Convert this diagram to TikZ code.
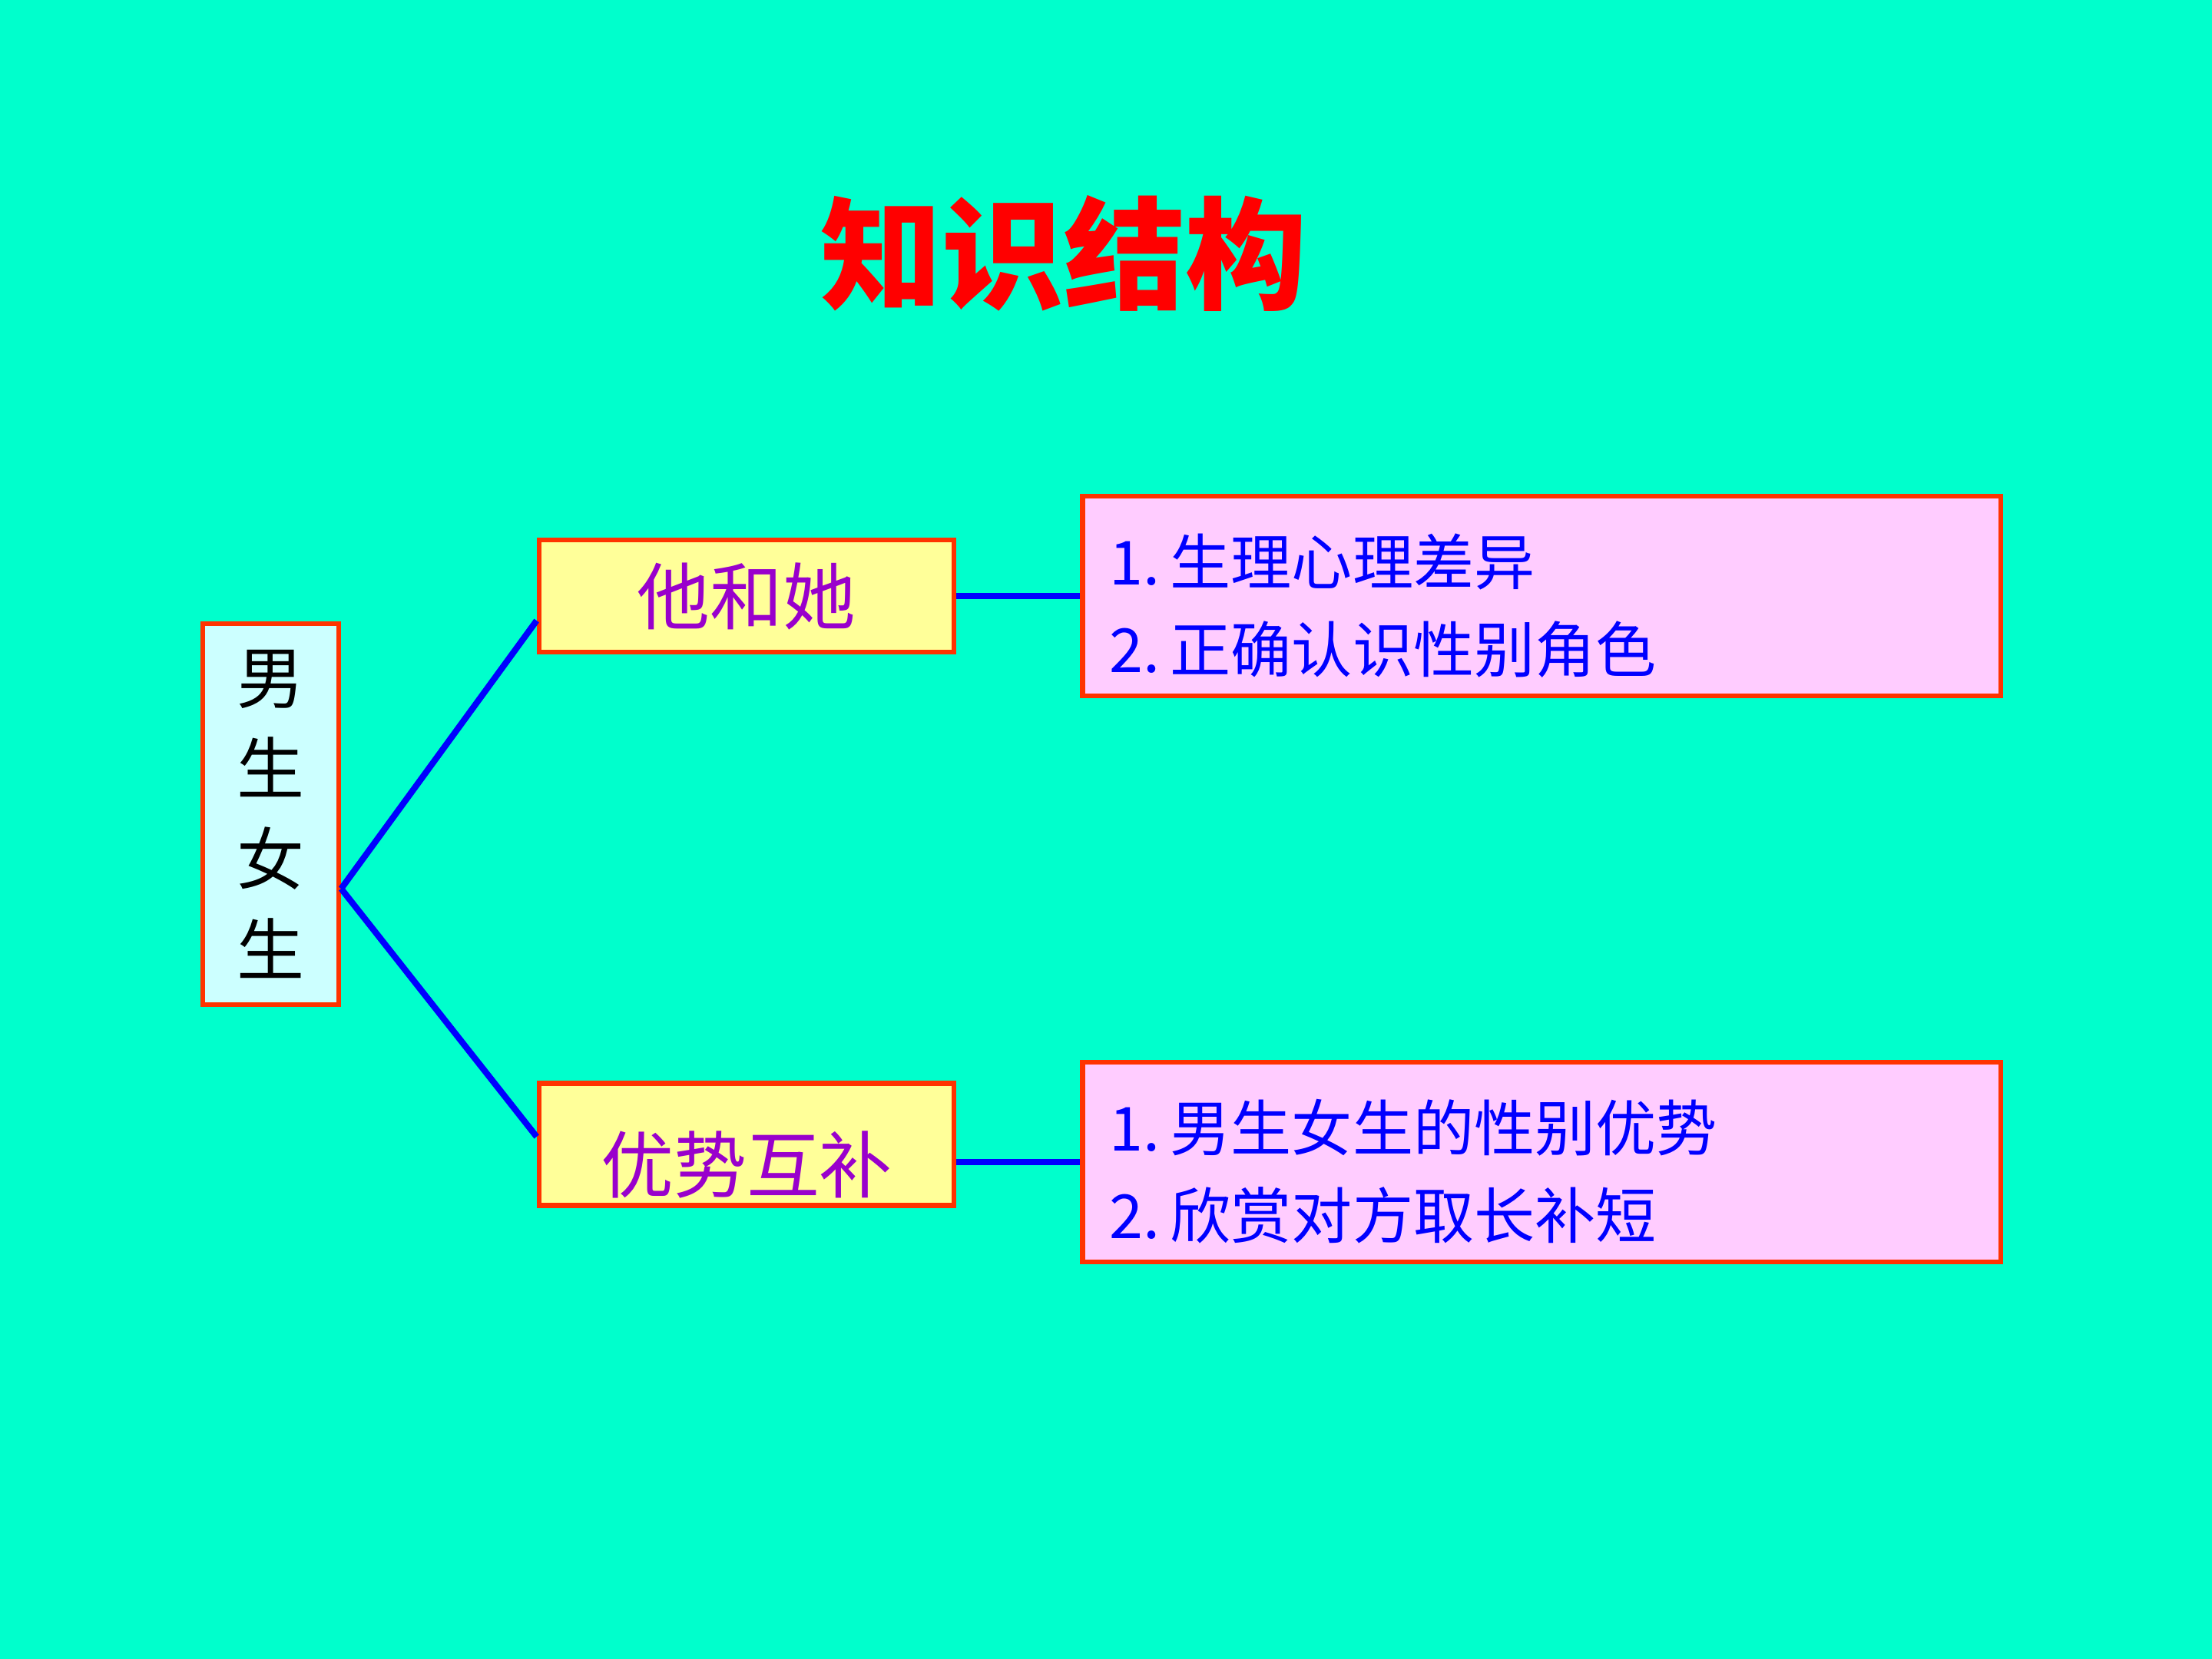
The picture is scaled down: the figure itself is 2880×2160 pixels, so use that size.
\documentclass[tikz,border=0pt]{standalone}
\usepackage{fontspec}
\usepackage{tikz}
\usetikzlibrary{positioning}
\newfontfamily\cjk{Noto Sans CJK SC}
\definecolor{slidebg}{HTML}{00FFCC}
\definecolor{boxline}{HTML}{FF3300}
\definecolor{paleblue}{HTML}{CCFFFF}
\definecolor{paleyellow}{HTML}{FFFF99}
\definecolor{palepink}{HTML}{FFCCFF}
\definecolor{violet}{HTML}{9900CC}
\begin{document}
\begin{tikzpicture}[x=0.01cm, y=-0.01cm,
  framed/.style={draw=boxline, line width=1.8pt, rectangle, inner sep=0pt},
  branch/.style={draw=blue, line width=2.3pt}]
\fill[slidebg] (0,0) rectangle (2880,2160);
\useasboundingbox (0,0) rectangle (2880,2160);

\node (title) at (1385,330) [text=red, font=\cjk\bfseries\fontsize{45pt}{50pt}\selectfont]{知识结构};

\node (boygirl) at (352.5,1060) [framed, fill=paleblue, minimum width=1.77cm, minimum height=4.96cm, align=center, font=\cjk\fontsize{25pt}{33.5pt}\selectfont]{男\\生\\女\\生};

\node (himher) at (972,776) [framed, fill=paleyellow, minimum width=5.4cm, minimum height=1.46cm, text=violet, font=\cjk\fontsize{27pt}{32pt}\selectfont]{\raisebox{-0.05cm}{他和她}};
\node (strengths) at (972,1490) [framed, fill=paleyellow, minimum width=5.4cm, minimum height=1.59cm, text=violet, font=\cjk\fontsize{27pt}{32pt}\selectfont]{\raisebox{-0.62cm}[0pt][0pt]{优势互补}};

\node (diffs) [framed, right=1.61cm of himher, fill=palepink, minimum height=2.6cm, text width=11.25cm, inner xsep=0.35cm, align=left, text=blue, font=\cjk\fontsize{22.5pt}{32.5pt}\selectfont]{\rule{0pt}{26pt}1.\,生理心理差异\\2.\,正确认识性别角色};
\node (merits) [framed, right=1.61cm of strengths, yshift=-0.23cm, fill=palepink, minimum height=2.6cm, text width=11.25cm, inner xsep=0.35cm, align=left, text=blue, font=\cjk\fontsize{22.5pt}{32.5pt}\selectfont]{\rule{0pt}{26pt}1.\,男生女生的性别优势\\2.\,欣赏对方取长补短};

% connectors
\coordinate (fork) at ([yshift=-0.97cm]boygirl.east);
\draw [branch](fork)--([yshift=-0.32cm]himher.west);
\draw [branch](fork)--([yshift=0.1cm]strengths.west);
\draw [branch](himher.east)--(diffs.west);
\draw [branch](merits.west)--(merits.west -| strengths.east);
\end{tikzpicture}
\end{document}
